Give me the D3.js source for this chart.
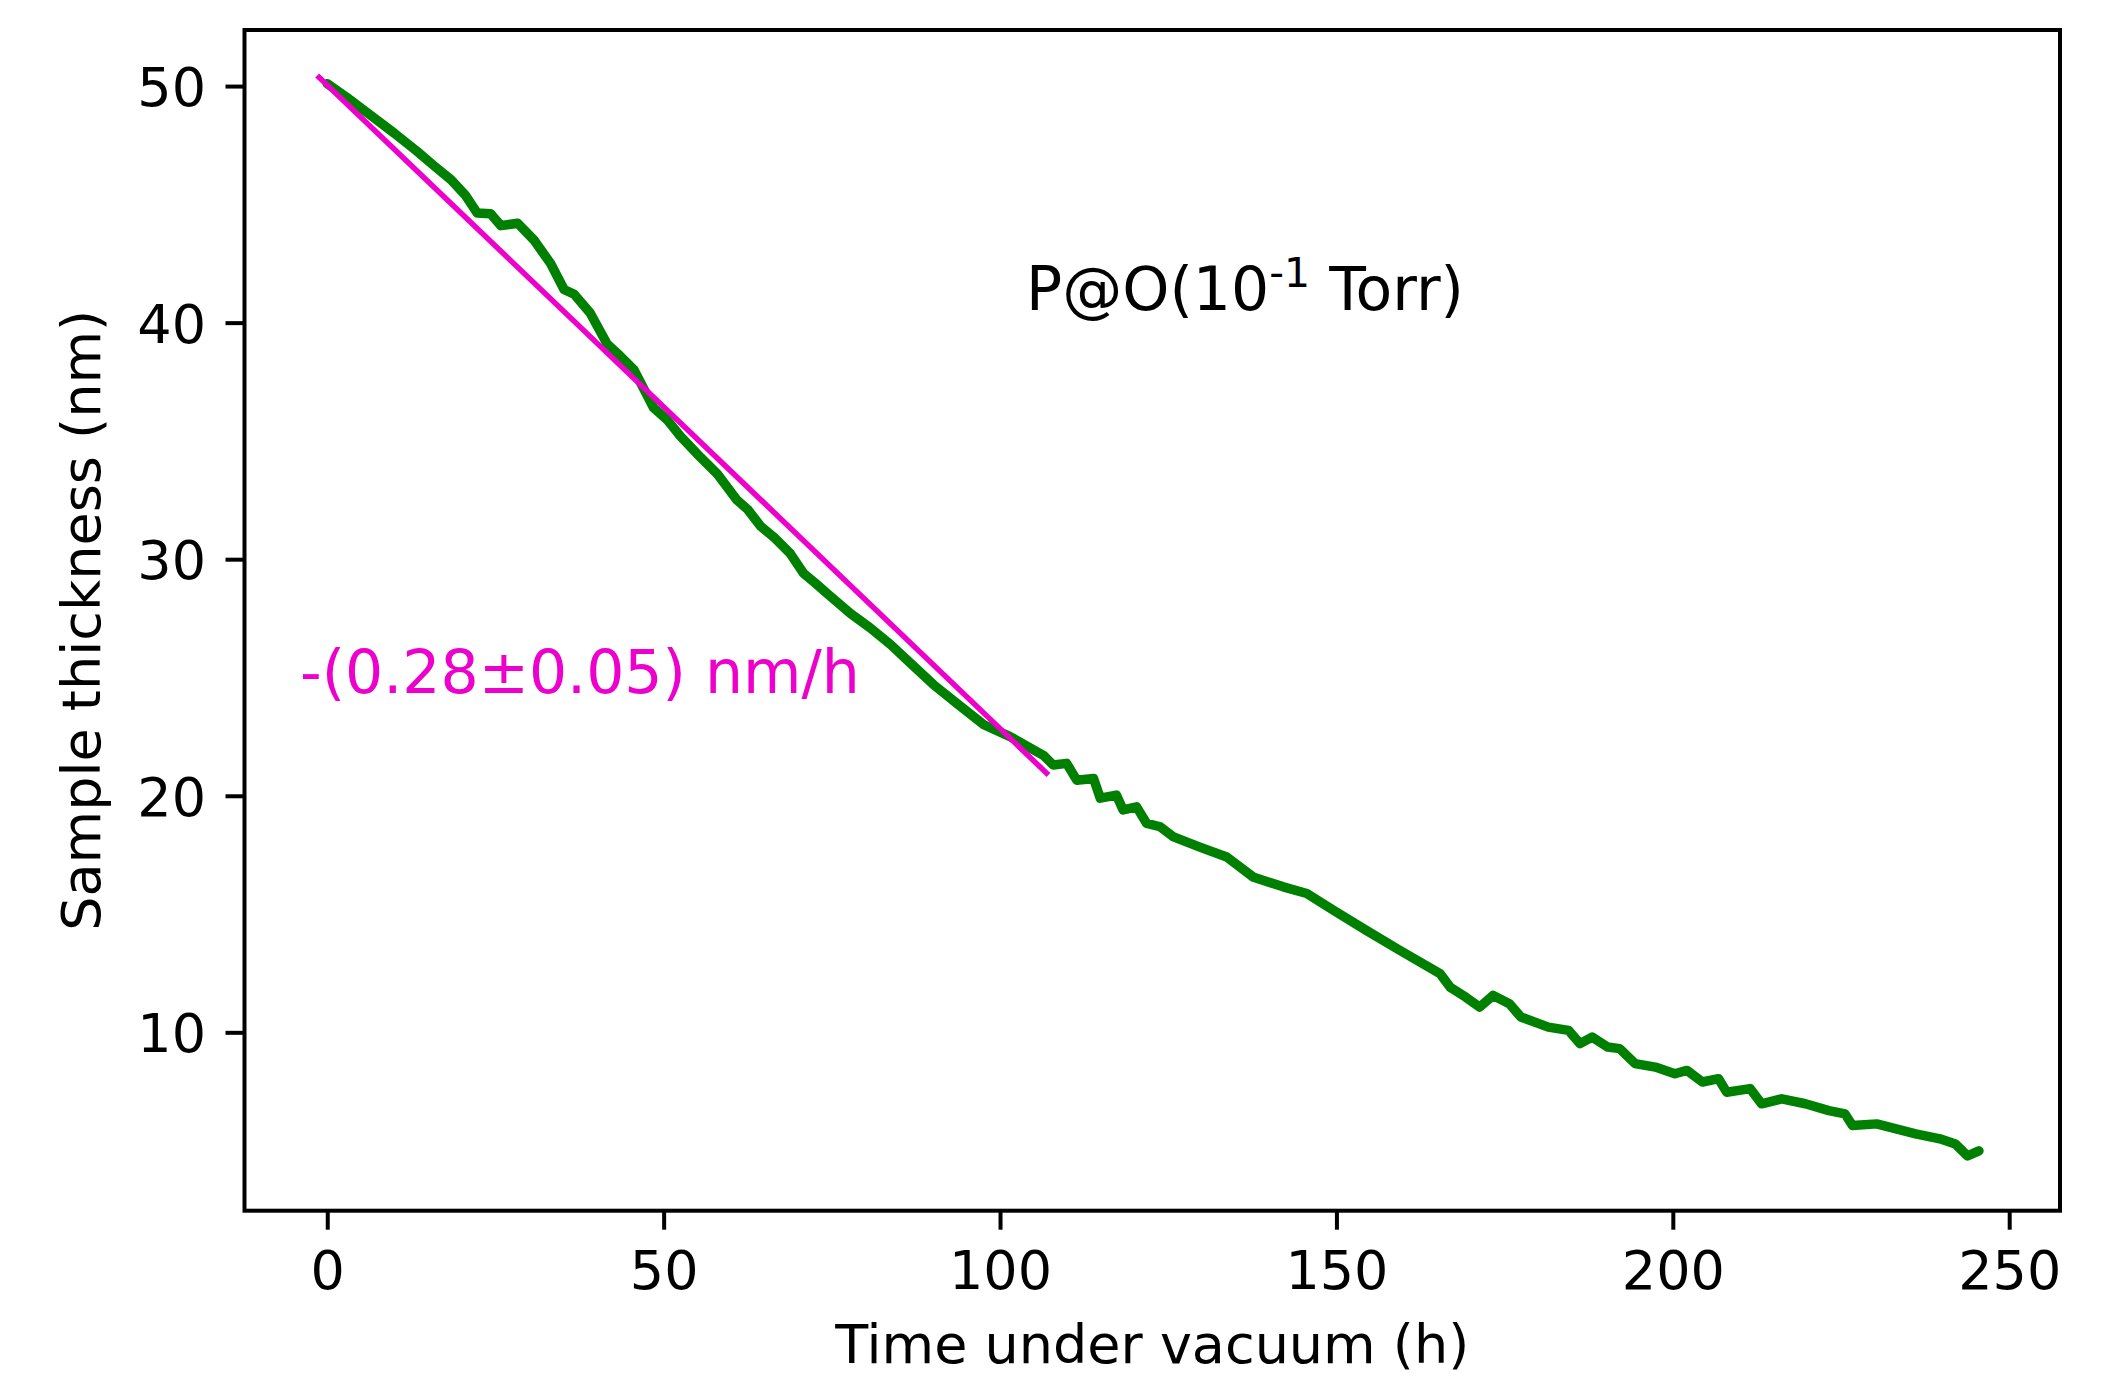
<!DOCTYPE html>
<html>
<head>
<meta charset="utf-8">
<script src="https://cdn.jsdelivr.net/npm/d3@7"></script>
<style>
  html, body { margin: 0; padding: 0; background: #fff; }
  svg { display: block; font-family: "DejaVu Sans", sans-serif; }
</style>
</head>
<body>
<svg id="chart" width="2115" height="1376"></svg>
<script>
// ---- data ----
const timeHours = [0, 3, 6, 10, 13.4, 16, 18.4, 20.5, 22.3, 24.3, 25.8, 28.3, 30.7, 33.2, 35.2, 36.7, 39.1, 41.6, 43.5, 45.6, 47.6, 48.5, 50.5, 52.5, 55.5, 58.0, 60.9, 62.5, 64.4, 66.5, 68.8, 70.8, 72.5, 74.3, 77.8, 80.7, 83.7, 86.7, 90.1, 93.6, 97.6, 101.5, 104, 106.5, 107.9, 109.9, 111.4, 113.9, 114.9, 117.3, 118.3, 120.3, 121.8, 123.8, 125.8, 129.7, 133.7, 137.6, 142.1, 145.6, 149.5, 154.5, 159.4, 165.4, 166.9, 169.2, 171.3, 173.3, 175.7, 177.4, 181.5, 184.5, 186.2, 188.0, 190.3, 192.1, 194.4, 197.4, 200.3, 202.1, 204.4, 206.8, 208.0, 211.5, 213.2, 216.2, 219.7, 223.2, 225.6, 226.7, 230.3, 233.2, 236.1, 239.7, 242.0, 243.8, 245.5];
const thicknessNm = [50.1, 49.5, 48.86, 48.0, 47.23, 46.6, 46.04, 45.4, 44.63, 44.6, 44.1, 44.2, 43.5, 42.5, 41.4, 41.2, 40.4, 39.1, 38.6, 38.0, 36.9, 36.4, 35.9, 35.2, 34.3, 33.6, 32.5, 32.1, 31.4, 30.9, 30.25, 29.4, 29.0, 28.55, 27.7, 27.1, 26.4, 25.6, 24.7, 23.9, 23.0, 22.5, 22.1, 21.7, 21.3, 21.37, 20.66, 20.73, 19.9, 20.03, 19.4, 19.53, 18.83, 18.69, 18.26, 17.83, 17.41, 16.57, 16.15, 15.87, 15.17, 14.3, 13.47, 12.48, 11.91, 11.49, 11.07, 11.56, 11.21, 10.65, 10.22, 10.08, 9.52, 9.8, 9.38, 9.31, 8.68, 8.53, 8.25, 8.39, 7.9, 8.04, 7.47, 7.62, 6.98, 7.19, 6.98, 6.69, 6.55, 6.06, 6.13, 5.92, 5.71, 5.5, 5.28, 4.78, 4.99];

const fitTime = [-1.5, 107.2];
const fitThickness = [50.45, 20.88];

const xTicks = [0, 50, 100, 150, 200, 250];
const yTicks = [10, 20, 30, 40, 50];

const xLabel = "Time under vacuum (h)";
const yLabel = "Sample thickness (nm)";
const rateLabel = "-(0.28\u00b10.05) nm/h";

// ---- layout ----
const plotL = 244.5, plotR = 2060, plotT = 30, plotB = 1210.7;
const svg = d3.select("#chart");

const x = d3.scaleLinear().domain([-12.3, 257.55]).range([plotL, plotR]);
const y = d3.scaleLinear().domain([2.46, 52.37]).range([plotB, plotT]);

const green = "#008000";
const magenta = "#ee00cc";

// data line
const dataLine = d3.line().x((d, i) => x(timeHours[i])).y((d, i) => y(thicknessNm[i]));
svg.append("path")
  .attr("d", dataLine(thicknessNm))
  .attr("fill", "none")
  .attr("stroke", green)
  .attr("stroke-width", 9.5)
  .attr("stroke-linejoin", "round")
  .attr("stroke-linecap", "round");

// fit line
const fitLine = d3.line().x((d, i) => x(fitTime[i])).y((d, i) => y(fitThickness[i]));
svg.append("path")
  .attr("d", fitLine(fitThickness))
  .attr("fill", "none")
  .attr("stroke", magenta)
  .attr("stroke-width", 5.5);

// axes
const xAxis = d3.axisBottom(x).tickValues(xTicks).tickSize(19).tickPadding(21).tickSizeOuter(0);
const yAxis = d3.axisLeft(y).tickValues(yTicks).tickSize(19).tickPadding(19.5).tickSizeOuter(0);

const gx = svg.append("g").attr("transform", `translate(0,${plotB})`).call(xAxis);
const gy = svg.append("g").attr("transform", `translate(${plotL},0)`).call(yAxis);
[gx, gy].forEach(g => {
  g.select(".domain").remove();
  g.selectAll(".tick line").attr("stroke", "#000").attr("stroke-width", 4);
  g.selectAll(".tick text")
    .attr("fill", "#000")
    .style("font-family", "'DejaVu Sans', sans-serif")
    .style("font-size", "54px");
});
gy.selectAll(".tick text").attr("dy", "0.36em");

// frame
svg.append("rect")
  .attr("x", plotL).attr("y", plotT)
  .attr("width", plotR - plotL).attr("height", plotB - plotT)
  .attr("fill", "none").attr("stroke", "#000").attr("stroke-width", 4);

// axis labels
svg.append("text")
  .attr("x", (plotL + plotR) / 2).attr("y", 1363)
  .attr("text-anchor", "middle")
  .style("font-size", "54px").attr("fill", "#000")
  .text(xLabel);

svg.append("text")
  .attr("transform", `translate(100,${(plotT + plotB) / 2}) rotate(-90)`)
  .attr("text-anchor", "middle")
  .style("font-size", "54px").attr("fill", "#000")
  .text(yLabel);

// annotations
const ann = svg.append("text")
  .attr("x", 1026).attr("y", 310)
  .style("font-size", "60px").attr("fill", "#000");
ann.append("tspan").text("P@O(10");
ann.append("tspan").attr("dy", "-23").style("font-size", "41px").text("-1");
ann.append("tspan").attr("dy", "23").text(" Torr)");

svg.append("text")
  .attr("x", 300).attr("y", 693)
  .style("font-size", "60px").attr("fill", magenta)
  .text(rateLabel);
</script>
</body>
</html>
